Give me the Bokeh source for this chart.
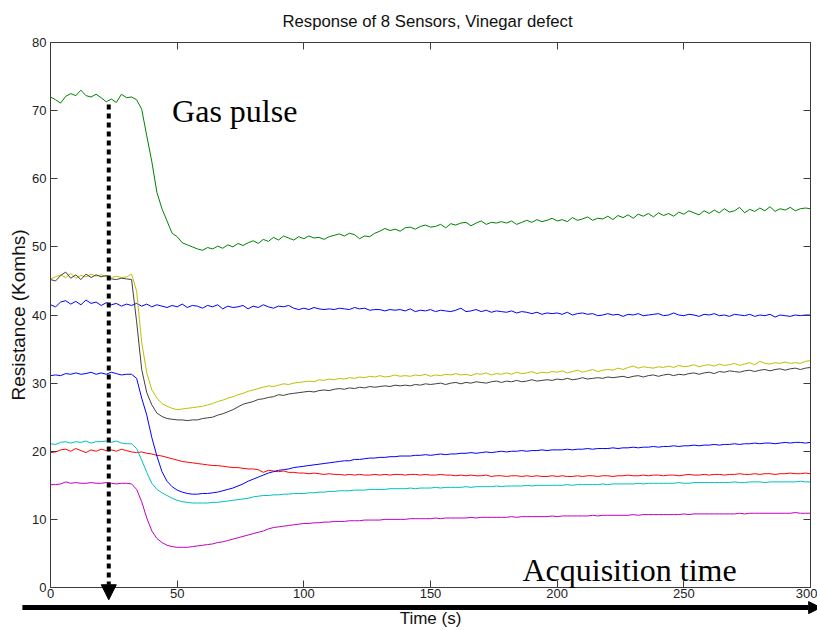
from bokeh.plotting import figure
from bokeh.models import Range1d, LinearAxis, Label, Arrow, NormalHead, FixedTicker
from bokeh.embed import file_html
from bokeh.resources import INLINE

# ---------------- data ----------------
time_s = list(range(0, 301, 2))

green = [
    72.0, 71.6, 71.1, 72.1, 72.5, 72.2, 73.0, 72.2, 72.0, 72.4,
    71.9, 71.3, 71.7, 71.2, 72.4, 71.9, 72.0, 71.6, 70.2, 66.3,
    62.5, 58.0, 55.6, 53.8, 52.0, 51.5, 50.6, 50.3, 50.0, 49.7,
    49.5, 49.9, 49.7, 50.1, 49.8, 50.3, 50.0, 50.5, 50.2, 50.6,
    50.9, 50.5, 51.1, 50.8, 51.4, 51.0, 51.6, 51.3, 51.0, 51.5,
    51.2, 51.6, 51.3, 51.4, 51.1, 51.5, 51.7, 51.9, 51.6, 52.0,
    51.8, 51.2, 51.6, 51.5, 52.0, 52.3, 52.7, 52.4, 52.6, 52.3,
    52.8, 52.9, 52.6, 53.0, 53.2, 52.9, 53.0, 53.3, 52.8, 53.4,
    53.2, 53.5, 53.6, 53.1, 53.5, 53.8, 53.3, 53.6, 53.5, 53.7,
    53.5, 53.8, 53.3, 53.6, 53.9, 53.6, 54.0, 53.7, 53.9, 54.2,
    53.8, 54.0, 53.7, 54.3, 53.9, 54.1, 54.4, 53.9, 54.2, 54.1,
    54.5, 54.0, 54.6, 54.3, 54.7, 54.2, 54.8, 54.5, 54.9, 54.4,
    55.0, 54.6, 54.9, 54.5, 55.1, 54.8, 55.3, 55.0, 54.7, 55.3,
    54.9, 55.4, 55.0, 55.6, 55.1, 55.3, 55.8, 55.0, 55.5, 55.2,
    55.7, 55.3, 55.9, 55.2, 55.6, 55.4, 55.8, 55.3, 55.6, 55.7,
    55.6,
]
yellow = [
    45.3, 45.6, 45.9, 45.5, 46.1, 45.4, 45.8, 45.6, 46.0, 45.7,
    45.9, 45.6, 45.5, 45.7, 45.5, 45.6, 46.0, 43.5, 36.0, 31.5,
    29.0, 27.8, 27.0, 26.6, 26.3, 26.1, 26.2, 26.3, 26.4, 26.5,
    26.6, 26.8, 27.0, 27.3, 27.5, 27.8, 28.0, 28.3, 28.5, 28.8,
    29.0, 29.2, 29.4, 29.6, 29.5, 29.7, 29.9, 29.8, 30.0, 30.1,
    30.2, 30.3, 30.2, 30.5, 30.4, 30.6, 30.5, 30.7, 30.6, 30.8,
    30.7, 30.9, 30.8, 31.0, 30.9, 31.1, 30.9, 31.0, 31.2, 31.0,
    31.1, 31.0, 31.2, 31.1, 31.3, 31.0, 31.2, 31.1, 31.3, 31.2,
    31.4, 31.2, 31.3, 31.1, 31.4, 31.3, 31.5, 31.2, 31.4, 31.3,
    31.5, 31.3, 31.6, 31.4, 31.5, 31.7, 31.4, 31.6, 31.5, 31.7,
    31.6, 31.8, 31.5, 31.7, 31.9, 31.6, 31.8, 32.0, 31.7, 31.9,
    32.0, 31.9, 32.2, 32.0, 32.3, 32.5, 32.2, 32.4, 32.3, 32.2,
    32.4, 32.3, 32.5, 32.3, 32.6, 32.4, 32.5, 32.7, 32.4, 32.6,
    32.7, 32.5, 32.8, 32.6, 32.7, 32.9, 32.6, 32.8, 33.0, 32.7,
    33.2, 32.9, 32.8, 33.0, 32.9, 33.1, 32.9, 33.0, 32.9, 33.2,
    33.3,
]
gray = [
    45.2, 45.0, 45.8, 46.3, 45.4, 45.9, 45.2, 46.0, 45.5, 45.9,
    45.6, 45.8, 45.3, 45.2, 45.4, 45.3, 45.2, 39.0, 32.0, 28.6,
    26.8, 25.6, 25.1, 24.8, 24.7, 24.6, 24.6, 24.5, 24.6, 24.6,
    24.8, 24.9, 25.0, 25.3, 25.5, 25.8, 26.1, 26.5, 26.9, 27.1,
    27.3, 27.6, 27.7, 27.9, 28.0, 28.3, 28.2, 28.4, 28.5, 28.6,
    28.7, 28.8, 28.7, 28.9, 29.0, 28.9, 29.1, 29.2, 29.1, 29.3,
    29.2, 29.4, 29.3, 29.5, 29.4, 29.5, 29.6, 29.5, 29.7, 29.6,
    29.7, 29.6, 29.8, 29.7, 29.9, 29.8, 29.9, 30.0, 29.8, 30.0,
    30.1, 29.9, 30.1, 30.0, 30.2, 30.1, 30.0, 30.2, 30.3, 30.1,
    30.3, 30.2, 30.4, 30.2, 30.3, 30.5, 30.3, 30.4, 30.5, 30.4,
    30.6, 30.5, 30.7, 30.5, 30.6, 30.8, 30.6, 30.7, 30.8, 30.7,
    30.9, 30.8, 30.9, 31.0, 30.8, 31.0, 31.1, 30.9, 31.1, 31.2,
    31.0, 31.2, 31.3, 31.1, 31.3, 31.2, 31.4, 31.5, 31.3, 31.5,
    31.6, 31.4, 31.7, 31.6, 31.8, 31.7, 31.6, 31.8, 31.9, 31.7,
    31.9, 32.0, 31.8, 32.0, 32.1, 31.9, 32.1, 32.2, 32.0, 32.2,
    32.3,
]
blue_top = [
    41.5, 41.2, 41.9, 42.1, 41.6, 42.0, 41.5, 42.2, 41.7, 41.9,
    41.4, 41.8, 41.5, 41.7, 41.3, 41.6, 41.4, 41.7, 41.3, 41.6,
    41.2, 41.5, 41.3, 41.1, 41.4, 41.2, 41.6, 41.1, 41.4, 41.3,
    41.0, 41.4, 41.2, 41.5, 40.9, 41.3, 41.1, 41.2, 41.4, 40.9,
    41.3, 41.1, 41.5, 41.2, 41.0, 41.3, 41.2, 41.4, 41.0, 40.8,
    41.0, 40.8, 41.1, 40.9, 40.8, 40.9, 40.8, 41.0, 40.9, 40.8,
    41.1, 40.9, 41.0, 40.7, 40.8, 40.8, 40.6, 40.8, 40.7, 40.8,
    40.6, 40.9, 40.5, 40.7, 40.6, 40.8, 40.5, 40.7, 40.6, 40.5,
    40.7, 41.0, 40.5, 40.6, 40.8, 40.5, 40.7, 40.4, 40.6, 40.5,
    40.4, 40.6, 40.3, 40.5, 40.4, 40.2, 40.4, 40.1, 40.3, 40.2,
    40.3, 40.1, 40.4, 40.0, 40.2, 40.3, 40.1, 40.2, 39.9, 40.0,
    40.2, 40.0, 40.1, 39.8, 40.1, 40.0, 40.2, 39.9, 40.0, 40.1,
    40.2, 39.9, 40.0, 40.3, 40.0, 39.9, 40.1, 40.0, 39.8, 40.1,
    40.0, 40.2, 39.9, 40.0, 39.8, 40.1, 40.0, 39.9, 40.1, 39.8,
    40.0, 39.9, 40.1, 39.7, 40.0, 39.9, 39.8, 40.0, 39.9, 40.0,
    40.0,
]
blue_low = [
    31.1, 31.2, 31.1, 31.4, 31.3, 31.5, 31.3, 31.4, 31.6, 31.3,
    31.5, 31.3, 31.6, 31.4, 31.2, 31.3, 31.3, 30.7, 27.8, 25.3,
    22.0, 19.3, 17.0, 15.6, 14.8, 14.3, 14.0, 13.8, 13.7, 13.7,
    13.8, 13.8, 13.9, 14.0, 14.2, 14.4, 14.6, 14.9, 15.2, 15.6,
    15.9, 16.2, 16.5, 16.8, 17.0, 17.2, 17.3, 17.4, 17.6, 17.7,
    17.8, 17.9, 18.0, 18.1, 18.2, 18.3, 18.4, 18.5, 18.6, 18.6,
    18.8, 18.8, 18.9, 19.0, 19.0, 19.1, 19.1, 19.2, 19.2, 19.3,
    19.3, 19.3, 19.4, 19.4, 19.5, 19.4, 19.5, 19.6, 19.5, 19.6,
    19.6, 19.7, 19.7, 19.8, 19.7, 19.8, 19.9, 19.8, 19.9, 20.0,
    19.9, 20.0, 20.0, 20.1, 20.0, 20.1, 20.1, 20.2, 20.1, 20.2,
    20.2, 20.2, 20.3, 20.2, 20.3, 20.3, 20.4, 20.3, 20.4, 20.4,
    20.4, 20.5, 20.4, 20.5, 20.5, 20.6, 20.5, 20.6, 20.6, 20.7,
    20.6, 20.7, 20.7, 20.8, 20.7, 20.8, 20.8, 20.9, 20.8, 20.9,
    20.9, 21.0, 20.9, 21.0, 21.0, 21.1, 21.0, 21.1, 21.1, 21.2,
    21.1, 21.2, 21.2, 21.1, 21.2, 21.3, 21.2, 21.3, 21.3, 21.2,
    21.3,
]
red = [
    19.8, 19.9, 20.2, 20.3, 20.0, 20.4, 20.1, 19.8, 20.2, 20.0,
    20.3, 20.1, 20.2, 20.0, 20.3, 20.1, 19.9, 19.8, 19.9, 19.7,
    19.6, 19.4, 19.3, 19.1, 18.9, 18.7, 18.5, 18.4, 18.3, 18.2,
    18.1, 18.0, 17.9, 17.9, 17.8, 17.7, 17.6, 17.6, 17.5, 17.4,
    17.4, 17.3, 16.9, 17.2, 17.1, 17.0, 17.1, 16.9, 16.9, 16.8,
    16.8, 16.7, 16.8, 16.7, 16.6, 16.7, 16.6, 16.6, 16.5, 16.6,
    16.5, 16.6, 16.5, 16.5, 16.6, 16.5, 16.6, 16.5, 16.6, 16.6,
    16.5, 16.6, 16.6, 16.5, 16.6, 16.5, 16.5, 16.6, 16.5, 16.5,
    16.4, 16.5, 16.4, 16.5, 16.4, 16.4, 16.5, 16.3, 16.4, 16.4,
    16.3, 16.4, 16.4, 16.3, 16.4, 16.3, 16.4, 16.3, 16.3, 16.4,
    16.3, 16.4, 16.3, 16.3, 16.4, 16.3, 16.4, 16.4, 16.3, 16.4,
    16.4, 16.3, 16.4, 16.4, 16.5, 16.4, 16.4, 16.5, 16.4, 16.5,
    16.5, 16.4, 16.5, 16.5, 16.4, 16.5, 16.6, 16.5, 16.5, 16.6,
    16.5, 16.6, 16.6, 16.5, 16.6, 16.6, 16.7, 16.6, 16.6, 16.7,
    16.6, 16.7, 16.7, 16.6, 16.7, 16.7, 16.8, 16.7, 16.7, 16.8,
    16.7,
]
cyan = [
    21.1, 21.0, 21.3, 21.4, 21.2, 21.4, 21.3, 21.5, 21.2, 21.4,
    21.4, 21.5, 21.3, 21.5, 21.2, 21.1, 21.1, 20.4, 18.7, 16.9,
    15.3, 14.4, 13.9, 13.5, 13.1, 12.8, 12.6, 12.5, 12.4, 12.4,
    12.4, 12.4, 12.5, 12.5, 12.6, 12.7, 12.8, 12.9, 13.0, 13.1,
    13.3, 13.4, 13.5, 13.5, 13.6, 13.6, 13.7, 13.7, 13.8, 13.8,
    13.8, 13.9, 13.9, 14.0, 14.0, 14.1, 14.1, 14.2, 14.2, 14.2,
    14.3, 14.3, 14.3, 14.4, 14.4, 14.4, 14.4, 14.5, 14.5, 14.5,
    14.5, 14.6, 14.5, 14.6, 14.6, 14.6, 14.7, 14.6, 14.7, 14.7,
    14.7, 14.7, 14.8, 14.7, 14.8, 14.8, 14.8, 14.8, 14.9, 14.8,
    14.9, 14.9, 14.9, 14.9, 15.0, 14.9, 15.0, 15.0, 15.0, 15.0,
    15.0, 15.0, 15.1, 15.0, 15.1, 15.1, 15.1, 15.1, 15.1, 15.2,
    15.1, 15.2, 15.2, 15.2, 15.2, 15.2, 15.3, 15.2, 15.3, 15.3,
    15.3, 15.3, 15.3, 15.3, 15.4, 15.3, 15.3, 15.4, 15.4, 15.4,
    15.4, 15.4, 15.4, 15.4, 15.4, 15.5, 15.4, 15.4, 15.5, 15.5,
    15.5, 15.4, 15.5, 15.5, 15.5, 15.5, 15.5, 15.5, 15.6, 15.5,
    15.5,
]
magenta = [
    15.1, 15.1, 15.2, 15.5, 15.3, 15.4, 15.3, 15.3, 15.4, 15.3,
    15.3, 15.4, 15.3, 15.2, 15.3, 15.3, 15.2, 14.4, 12.6, 10.2,
    8.3, 7.2, 6.6, 6.2, 6.0, 5.9, 5.9, 5.9, 6.0, 6.1,
    6.2, 6.3, 6.4, 6.6, 6.7, 6.9, 7.1, 7.3, 7.5, 7.7,
    7.9, 8.1, 8.3, 8.6, 8.8, 8.9, 9.0, 9.1, 9.2, 9.3,
    9.4, 9.4, 9.5, 9.5, 9.6, 9.6, 9.7, 9.7, 9.7, 9.8,
    9.8, 9.8, 9.9, 9.9, 9.9, 9.9, 10.0, 10.0, 10.0, 10.0,
    10.0, 10.1, 10.1, 10.1, 10.1, 10.1, 10.2, 10.1, 10.2, 10.2,
    10.2, 10.2, 10.2, 10.3, 10.2, 10.3, 10.3, 10.3, 10.3, 10.3,
    10.3, 10.4, 10.3, 10.4, 10.4, 10.4, 10.4, 10.4, 10.4, 10.5,
    10.4, 10.5, 10.5, 10.5, 10.5, 10.5, 10.5, 10.6, 10.5, 10.6,
    10.6, 10.6, 10.6, 10.6, 10.6, 10.7, 10.6, 10.7, 10.7, 10.7,
    10.7, 10.7, 10.7, 10.7, 10.7, 10.8, 10.7, 10.8, 10.8, 10.8,
    10.8, 10.8, 10.8, 10.8, 10.8, 10.8, 10.9, 10.8, 10.9, 10.9,
    10.9, 10.9, 10.9, 10.9, 10.9, 10.9, 10.9, 11.0, 10.9, 10.9,
    10.9,
]

series = [blue_top, green, red, cyan, magenta, yellow, gray, blue_low]
colors = ["#0000ff", "#008000", "#ff0000", "#00bfbf", "#bf00bf", "#bfbf00", "#404040", "#0000ff"]

x_ticks = [0, 50, 100, 150, 200, 250, 300]
y_ticks = [0, 10, 20, 30, 40, 50, 60, 70, 80]
x_lo, x_hi = 0, 300
y_lo, y_hi = 0, 80

pulse_time = 23
pulse_top = 70.9
pulse_tip = -1.8
axis_arrow_y = -2.95
axis_arrow_x0 = -11.1
axis_arrow_x1 = 304

# ---------------- figure ----------------
AX = "#3c3c3c"
# the frame spans the whole page area so that the arrows drawn below / left of
# the axes are not clipped; the axes sit at fixed data positions (box on)
p = figure(width=817, height=630, output_backend="svg", toolbar_location=None,
           x_range=Range1d(-19.737, 302.76), y_range=Range1d(-6.312, 81.468),
           min_border_left=0, min_border_right=0, min_border_top=32, min_border_bottom=0,
           title="Response of 8 Sensors, Vinegar defect",
           background_fill_color="white", border_fill_color="white")
p.title.align = "left"
p.title.offset = 282
p.title.text_font = "Liberation Sans"
p.title.text_font_size = "16.7px"
p.title.text_font_style = "normal"
p.title.text_color = "#111111"
p.title.standoff = 3

p.grid.visible = False
p.outline_line_color = None


def style_axis(ax):
    ax.axis_line_color = AX
    ax.major_tick_line_color = AX
    ax.major_tick_in = 7
    ax.major_tick_out = 0
    ax.minor_tick_in = 0
    ax.minor_tick_out = 0
    ax.major_label_text_font = "Liberation Sans"
    ax.major_label_text_font_size = "13px"
    ax.major_label_text_color = "#222222"
    ax.axis_label_text_font = "Liberation Sans"
    ax.axis_label_text_font_style = "normal"
    ax.axis_label_text_color = "#111111"


xa = p.xaxis[0]
ya = p.yaxis[0]
style_axis(xa)
style_axis(ya)
xa.ticker = FixedTicker(ticks=x_ticks)
ya.ticker = FixedTicker(ticks=y_ticks)
xa.fixed_location = y_lo
ya.fixed_location = x_lo
xa.bounds = (x_lo, x_hi)
ya.bounds = (y_lo, y_hi)
xa.axis_label = "Time (s)"
ya.axis_label = "Resistance (Komhs)"
xa.axis_label_text_font_size = "17px"
ya.axis_label_text_font_size = "19px"
xa.major_label_standoff = 2
ya.major_label_standoff = 4
xa.axis_label_standoff = 7
ya.axis_label_standoff = 0

# mirrored tick marks on top and right (box on), without labels
top = LinearAxis(ticker=FixedTicker(ticks=x_ticks), fixed_location=y_hi, bounds=(x_lo, x_hi))
right = LinearAxis(ticker=FixedTicker(ticks=y_ticks), fixed_location=x_hi, bounds=(y_lo, y_hi))
for ax in (top, right):
    style_axis(ax)
    ax.major_label_text_color = None
    ax.major_label_standoff = 0
p.add_layout(top, "above")
p.add_layout(right, "right")

for ys, c in zip(series, colors):
    p.line(time_s, ys, line_color=c, line_width=1)

# annotations
p.add_layout(Label(x=48, y=69.95, text="Gas pulse", text_font="Liberation Serif",
                   text_font_size="32px", text_color="black", text_baseline="alphabetic"))
p.add_layout(Label(x=186.3, y=2.55, text="Acquisition time", text_font="Liberation Serif",
                   text_font_size="32px", text_color="black", text_baseline="alphabetic"))

p.add_layout(Arrow(end=NormalHead(size=15, fill_color="black", line_color="black", line_width=1),
                   x_start=pulse_time, y_start=pulse_top, x_end=pulse_time, y_end=pulse_tip,
                   line_color="black", line_width=4, line_dash="5 4"))
p.add_layout(Arrow(end=NormalHead(size=12, fill_color="black", line_color="black", line_width=1),
                   x_start=axis_arrow_x0, y_start=axis_arrow_y, x_end=axis_arrow_x1, y_end=axis_arrow_y,
                   line_color="black", line_width=5))

open("out.html", "w").write(file_html(p, INLINE))
